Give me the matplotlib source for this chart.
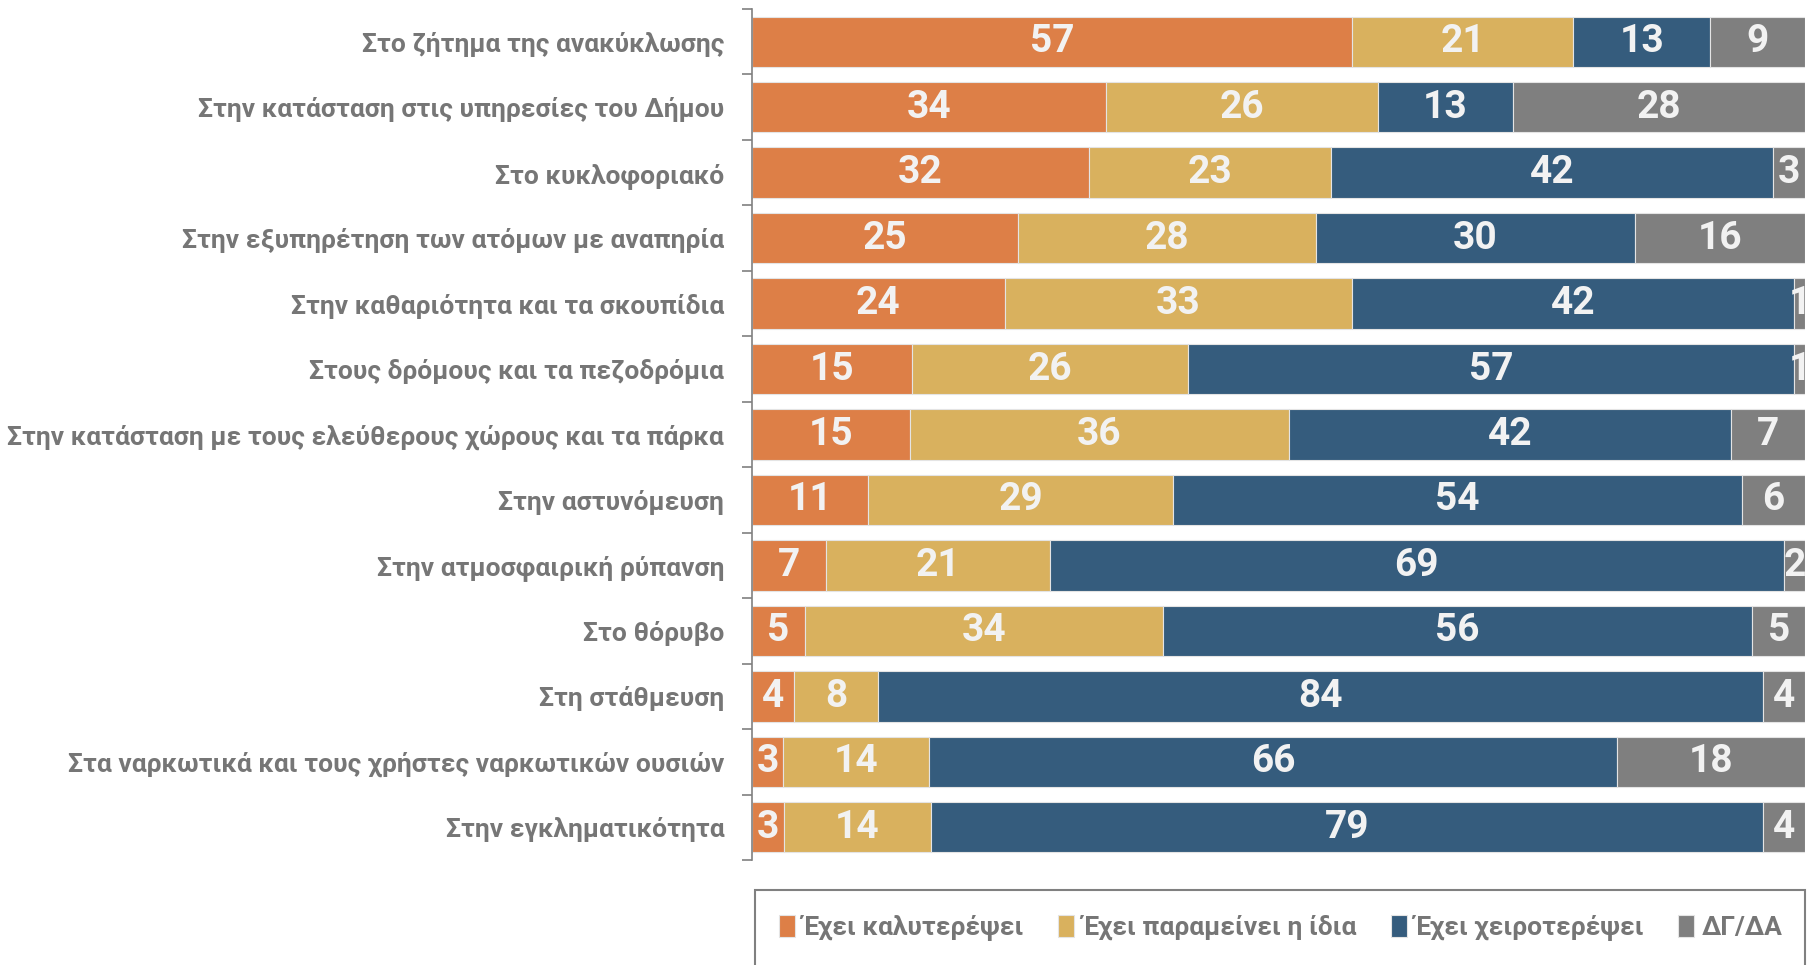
import numpy as np
import matplotlib.pyplot as plt
from matplotlib.patches import Rectangle

# survey answers per topic (percent, rounded)
categories = [
    "Στο ζήτημα της ανακύκλωσης",
    "Στην κατάσταση στις υπηρεσίες του Δήμου",
    "Στο κυκλοφοριακό",
    "Στην εξυπηρέτηση των ατόμων με αναπηρία",
    "Στην καθαριότητα και τα σκουπίδια",
    "Στους δρόμους και τα πεζοδρόμια",
    "Στην κατάσταση με τους ελεύθερους χώρους και τα πάρκα",
    "Στην αστυνόμευση",
    "Στην ατμοσφαιρική ρύπανση",
    "Στο θόρυβο",
    "Στη στάθμευση",
    "Στα ναρκωτικά και τους χρήστες ναρκωτικών ουσιών",
    "Στην εγκληματικότητα",
]
better = [57, 34, 32, 25, 24, 15, 15, 11, 7, 5, 4, 3, 3]
same = [21, 26, 23, 28, 33, 26, 36, 29, 21, 34, 8, 14, 14]
worse = [13, 13, 42, 30, 42, 57, 42, 54, 69, 56, 84, 66, 79]
dkna = [9, 28, 3, 16, 1, 1, 7, 6, 2, 5, 4, 18, 4]

series_names = ["Έχει καλυτερέψει", "Έχει παραμείνει η ίδια",
                "Έχει χειροτερέψει", "ΔΓ/ΔΑ"]
colors = ["#DD7F47", "#D9B15E", "#355C7D", "#7F7F7F"]

plt.rcParams['font.family'] = ['Roboto', 'DejaVu Sans']
plt.rcParams['font.weight'] = 'bold'

W, H = 1807, 965
fig = plt.figure(figsize=(W / 100, H / 100), dpi=100)
ax = fig.add_axes([752 / W, 1 - 860 / H, (1805 - 752) / W, (860 - 9) / H])

data = np.array([better, same, worse, dkna], dtype=float)
# rounded numbers don't always add to 100, bars are full width in the original
shares = data / data.sum(axis=0) * 100
y = np.arange(len(categories))
left = np.zeros(len(categories))
for vals, raw, name, col in zip(shares, data, series_names, colors):
    ax.barh(y, vals, left=left, height=0.77, color=col,
            edgecolor='#E4E4E4', linewidth=0.8, label=name)
    for yi, (l, v, r) in enumerate(zip(left, vals, raw)):
        ax.text(l + v / 2, yi, '%d' % r, ha='center', va='center',
                color='#F2F2F2', fontsize=28, fontweight='bold', clip_on=False)
    left += vals

ax.set_xlim(0, 100)
ax.set_ylim(len(categories) - 0.5, -0.5)
ax.set_yticks(y)
ax.set_yticklabels(categories, fontsize=19, color='#767676', fontweight='bold')
ax.set_yticks(np.arange(len(categories) + 1) - 0.5, minor=True)
ax.tick_params(axis='y', which='major', length=0, pad=20)
ax.tick_params(axis='y', which='minor', length=7, color='#808080', width=1.2)
ax.xaxis.set_visible(False)
for s in ['top', 'right', 'bottom']:
    ax.spines[s].set_visible(False)
ax.spines['left'].set_color('#808080')
ax.spines['left'].set_linewidth(1.2)

# legend box runs off the bottom of the picture
fig.patches.append(Rectangle((755 / W, -0.05), (1805 - 755) / W, (1 - 890 / H) + 0.05,
                             transform=fig.transFigure, fill=False,
                             edgecolor='#808080', linewidth=1.5))
handles, labels = ax.get_legend_handles_labels()
fig.legend(handles, labels, loc='center', bbox_to_anchor=(1281 / W, 1 - 928 / H),
           ncol=4, frameon=False, handlelength=0.6, handleheight=0.9,
           handletextpad=0.3, columnspacing=1.3, fontsize=19,
           labelcolor='#767676')

fig.savefig('out.png', dpi=100)
